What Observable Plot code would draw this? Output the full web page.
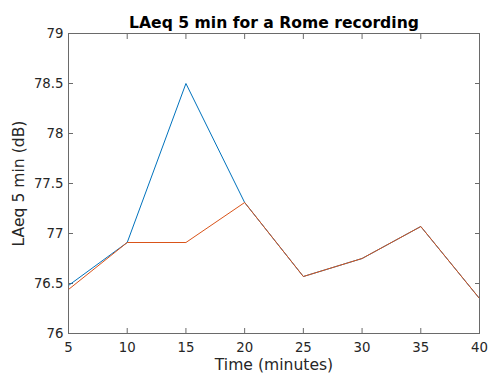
<!DOCTYPE html>
<html>
<head>
<meta charset="utf-8">
<script src="https://cdn.jsdelivr.net/npm/d3@7"></script>
<script src="https://cdn.jsdelivr.net/npm/@observablehq/plot@0.6"></script>
<style>
  html, body { margin: 0; padding: 0; background: white; }
</style>
</head>
<body>
<div id="chart"></div>
<script>
const times = [5, 10, 15, 20, 25, 30, 35, 40];
const laeqA = [76.48, 76.91, 78.50, 77.31, 76.57, 76.75, 77.07, 76.35];
const laeqB = [76.44, 76.91, 76.91, 77.31, 76.57, 76.75, 77.07, 76.35];
const xTicks = [5, 10, 15, 20, 25, 30, 35, 40];
const yTicks = [76, 76.5, 77, 77.5, 78, 78.5, 79];
const titleText = "LAeq 5 min for a Rome recording";
const xLabel = "Time (minutes)";
const yLabel = "LAeq 5 min (dB)";

const dataA = times.map((t, i) => ({t, v: laeqA[i]}));
const dataB = times.map((t, i) => ({t, v: laeqB[i]}));

const textColor = "#262626";
const lineColor = "#6a6a6a";
const fmt = d3.format("");

const chart = Plot.plot({
  width: 488,
  height: 374,
  marginLeft: 68,
  marginRight: 9,
  marginTop: 33,
  marginBottom: 41,
  style: {fontFamily: "DejaVu Sans", fontSize: "13.3px", color: textColor, background: "white"},
  x: {domain: [5, 40]},
  y: {domain: [76, 79]},
  marks: [
    Plot.axisX({anchor: "bottom", ticks: xTicks, tickSize: -5, tickPadding: 14, tickFormat: fmt, label: null, stroke: lineColor, fill: textColor}),
    Plot.axisX({anchor: "top", ticks: xTicks, tickSize: -5, tickFormat: () => "", label: null, stroke: lineColor}),
    Plot.axisY({anchor: "left", ticks: yTicks, tickSize: -5, tickPadding: 10, tickFormat: fmt, label: null, stroke: lineColor, fill: textColor}),
    Plot.axisY({anchor: "right", ticks: yTicks, tickSize: -5, tickFormat: () => "", label: null, stroke: lineColor}),
    Plot.line(dataA, {x: "t", y: "v", stroke: "#0072BD", strokeWidth: 1}),
    Plot.line(dataB, {x: "t", y: "v", stroke: "#D95319", strokeWidth: 1}),
    Plot.frame({stroke: lineColor, strokeWidth: 1}),
    Plot.text([titleText], {frameAnchor: "top", textAnchor: "middle", lineAnchor: "bottom", dy: -6, fontWeight: "bold", fontSize: 15.6, fill: "black"}),
    Plot.text([xLabel], {frameAnchor: "bottom", textAnchor: "middle", lineAnchor: "bottom", dy: 36.5, fontSize: 15.6, fill: textColor}),
    Plot.text([yLabel], {frameAnchor: "left", textAnchor: "middle", lineAnchor: "bottom", dx: -45, rotate: -90, fontSize: 15.6, fill: textColor})
  ]
});
document.getElementById("chart").appendChild(chart);
</script>
</body>
</html>
